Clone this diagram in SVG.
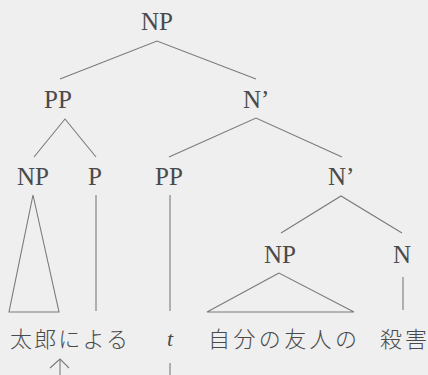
<svg xmlns="http://www.w3.org/2000/svg" width="428" height="375" viewBox="0 0 428 375">
<style>
.lbl{font-family:'Liberation Serif','DejaVu Serif','Times New Roman',serif;font-size:25px;fill:#4a4a4a}
.jp{font-family:'Noto Sans CJK JP','Noto Sans CJK SC',sans-serif;font-size:22px;font-weight:300;fill:#4a4a4a}
.tr{font-family:'Liberation Serif','DejaVu Serif','Times New Roman',serif;font-style:italic;font-size:22px;fill:#4a4a4a}
#edges line,#edges polyline,#edges polygon{stroke:#7a7a7a;stroke-width:1.1;fill:none}
</style>
<rect width="428" height="375" fill="#efefef"/>
<g id="edges">
<polyline points="60,79 157,41 256,79"/>
<polyline points="34,157 65,119 96,157"/>
<polyline points="169,157 256,118 342,157"/>
<polygon points="33,195 9,312 59,312"/>
<line x1="96" y1="195" x2="96" y2="311"/>
<line x1="170" y1="195" x2="170" y2="311"/>
<polyline points="281,233 341,196 402,233"/>
<polygon points="279,273 207,312 354,312"/>
<line x1="403" y1="277" x2="403" y2="310"/>
<line x1="60" y1="359" x2="60" y2="375"/>
<polyline points="50,368 60,359 69,368"/>
<line x1="170" y1="363" x2="170" y2="375"/>
</g>
<g id="n-np-top"><text class="lbl" x="157" y="30" text-anchor="middle">NP</text></g>
<g id="n-pp"><text class="lbl" x="58" y="108" text-anchor="middle">PP</text></g>
<g id="n-nbar1"><text class="lbl" x="243" y="108">N’</text></g>
<g id="n-np2"><text class="lbl" x="33" y="185" text-anchor="middle">NP</text></g>
<g id="n-p"><text class="lbl" x="95" y="185" text-anchor="middle">P</text></g>
<g id="n-pp2"><text class="lbl" x="169" y="185" text-anchor="middle">PP</text></g>
<g id="n-nbar2"><text class="lbl" x="328" y="185">N’</text></g>
<g id="n-np3"><text class="lbl" x="280" y="263" text-anchor="middle">NP</text></g>
<g id="n-n"><text class="lbl" x="402" y="263" text-anchor="middle">N</text></g>
<g id="w-taro"><text class="jp" x="10" y="347" textLength="118" lengthAdjust="spacing">太郎による</text></g>
<g id="w-t"><text class="tr" x="170" y="346" text-anchor="middle">t</text></g>
<g id="w-jibun"><text class="jp" x="208" y="347" textLength="149" lengthAdjust="spacing">自分の友人の</text></g>
<g id="w-satsugai"><text class="jp" x="380" y="347" textLength="47" lengthAdjust="spacing">殺害</text></g>
</svg>
